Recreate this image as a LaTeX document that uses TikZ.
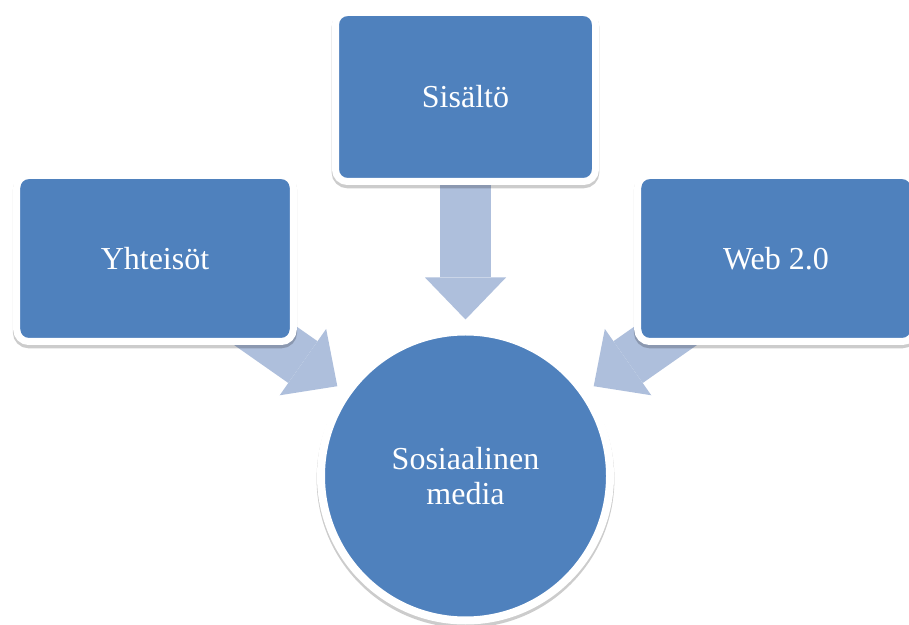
\documentclass[tikz,border=0pt]{standalone}
\usepackage{fontspec}
\setmainfont{Liberation Serif}
\usetikzlibrary{arrows.meta,shadows,backgrounds}
\definecolor{boxblue}{HTML}{4F81BD}
\definecolor{feedblue}{HTML}{AEBFDC}
\begin{document}
\begin{tikzpicture}[x=0.75pt,y=0.75pt,
    softshadow/.style={drop shadow={opacity=0.2,shadow xshift=0pt,shadow yshift=-2.2pt,draw=black,line width=#1}},
    box/.style={draw=white,line width=5.25pt,fill=boxblue,rounded corners=9pt,text=white,
        font=\fontsize{24}{26}\selectfont,softshadow=5.8pt},
    hub/.style={circle,draw=white,line width=6pt,fill=boxblue,minimum size=216.75pt,text=white,align=center,
        font=\fontsize{24}{26}\selectfont,softshadow=6.6pt},
    feed/.style={draw=feedblue,line width=38.25pt,-{Triangle[width=60.75pt,length=31.5pt,line width=0pt]},shorten >=6pt}]
        \useasboundingbox (0,0) rectangle (909,624);
        \node[box,minimum width=195pt,minimum height=126.75pt] (sisalto) at (465.5,527) {Sisältö};
        \node[box,minimum width=207.4pt,minimum height=124.5pt] (yhteisot) at (155,365.5) {Yhteisöt};
        \node[box,minimum width=207.4pt,minimum height=124.5pt] (web) at (776,365.5) {Web 2.0};
        \node[hub] (media) at (465.5,148) {Sosiaalinen\\media};
        \begin{pgfonlayer}{background}
            \foreach \n in {yhteisot,sisalto,web}{%
                \draw[feed] (\n.center) -- (media);
            }
        \end{pgfonlayer}
    \end{tikzpicture}
\end{document}
